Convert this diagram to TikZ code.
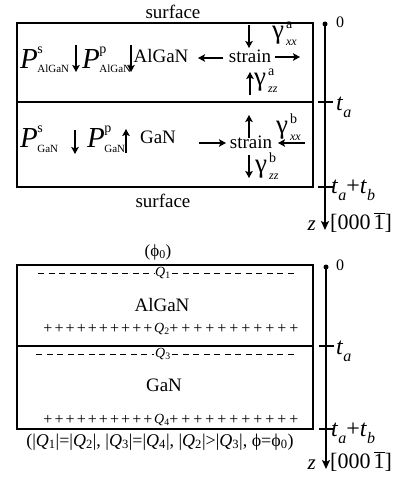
\documentclass[tikz,border=0pt]{standalone}
\usepackage{fontspec}
\setmainfont{Liberation Serif}
\usetikzlibrary{arrows.meta}

\newcommand{\fs}[1]{\fontsize{#1}{#1}\selectfont}
% polarization label P^s_{...}
\newcommand{\pol}[2]{\textit{P}\kern-0.5pt\rlap{\raisebox{15pt}{\fs{14}#1}}\raisebox{-5pt}{\fs{11}#2}}
% strain coefficient gamma^a_{xx}
\newcommand{\gam}[2]{{\fs{27}γ}\kern2pt\rlap{\raisebox{10pt}{\fs{14}#1}}\raisebox{-7pt}{\fs{12}\textit{#2}}}
\newcommand{\tsub}[2]{\textit{#1}\raisebox{-7pt}{\fs{16}\textit{#2}}}
\newcommand{\Qs}[1]{\textit{Q}\textsubscript{#1}}
\newcommand{\dirz}{[000\kern3pt$\overline{\mbox{1}}$]}

\begin{document}
\begin{tikzpicture}[x=1pt, y=-1pt,
    box/.style={line width=2pt},
    arr/.style={line width=1.6pt, -{Stealth[length=7pt, width=7.5pt, inset=1.5pt]}},
    axis/.style={line width=1.8pt, -{Stealth[length=9pt, width=8pt, inset=2pt]}},
    tick/.style={line width=1.6pt},
    lbl/.style={inner sep=0pt, font=\fs{19}},
    chgline/.style={line width=0.9pt, dash pattern=on 6pt off 4.5pt},
    pl/.style={inner sep=0pt, font=\fs{16}},
    ql/.style={inner sep=1.5pt, font=\fs{14}}]
    \useasboundingbox (0,0) rectangle (408,487);

    % ---- upper picture: polarization and strain ----
    \draw[box] (17,23) rectangle (313,187);
    \draw[box] (17,102) -- (313,102);
    \node[lbl] (surfT) at (173,12) {surface};
    \node[lbl] (surfB) at (163,201) {surface};

    % AlGaN layer
    \node[lbl, anchor=base west, font=\fs{29}] (PsA) at (20,68) {\pol{s}{AlGaN}};
    \draw[arr] (76,45) -- (76,72);
    \node[lbl, anchor=base west, font=\fs{29}] (PpA) at (82,68) {\pol{p}{AlGaN}};
    \draw[arr] (131,45) -- (131,72);
    \node[lbl, anchor=base] (algA) at (161,63) {AlGaN};
    \node[lbl, anchor=base] (strA) at (250,63) {strain};
    \draw[arr] (223,58) -- (198,58);
    \draw[arr] (275,57) -- (300,57);
    \draw[arr] (249,25) -- (249,48);
    \draw[arr] (250,95) -- (250,72);
    \node[lbl, anchor=base west] (gxxA) at (272,39) {\gam{a}{xx}};
    \node[lbl, anchor=base west] (gzzA) at (254,85) {\gam{a}{zz}};

    % GaN layer
    \node[lbl, anchor=base west, font=\fs{29}] (PsG) at (20,147) {\pol{s}{GaN}};
    \draw[arr] (75,130) -- (75,154);
    \node[lbl, anchor=base west, font=\fs{29}] (PpG) at (87,147) {\pol{p}{GaN}};
    \draw[arr] (126,153) -- (126,129);
    \node[lbl, anchor=base] (ganG) at (158,143) {GaN};
    \node[lbl, anchor=base] (strG) at (251,148) {strain};
    \draw[arr] (199,143) -- (226,143);
    \draw[arr] (305,143) -- (278,143);
    \draw[arr] (249,138) -- (249,115);
    \draw[arr] (249,155) -- (249,178);
    \node[lbl, anchor=base west] (gxxG) at (276,133) {\gam{b}{xx}};
    \node[lbl, anchor=base west] (gzzG) at (255,172) {\gam{b}{zz}};

    % depth axis
    \fill (325,24) circle (2.5);
    \draw[axis] (325,24) -- (325,230);
    \draw[tick] (318,102) -- (333,102);
    \draw[tick] (318,187) -- (333,187);
    \node[lbl, font=\fs{16}] (zeroT) at (340,22) {0};
    \node[lbl, anchor=base west, font=\fs{24}] (taT) at (336,110) {\tsub{t}{a}};
    \node[lbl, anchor=base west, font=\fs{24}] (tabT) at (331,193) {\tsub{t}{a}+\tsub{t}{b}};
    \node[lbl, anchor=base east, font=\fs{21}\itshape] (zT) at (316,230) {z};
    \node[lbl, anchor=base west, font=\fs{22}] (dirT) at (330,229) {\dirz};

    % ---- lower picture: interface charges ----
    \draw[box] (17,265) rectangle (313,429);
    \draw[box] (17,346) -- (313,346);
    \node[lbl, font=\fs{17}] (phi) at (158,252) {(ϕ\textsubscript{0})};

    \node[ql] (Q1) at (163,273) {\Qs{1}};
    \draw[chgline] (38,273) -- (Q1.west);
    \draw[chgline] (Q1.east) -- (297,273);
    \node[lbl] (algB) at (162,305) {AlGaN};
    \node[ql] (Q2) at (162,329) {\Qs{2}};
    \foreach \i in {0,...,9}
        \node[pl] (pa\i) at (48+\i*11.1,329) {+};
    \foreach \i in {0,...,10}
        \node[pl] (pb\i) at (174+\i*12,329) {+};

    \node[ql] (Q3) at (163,354) {\Qs{3}};
    \draw[chgline] (36,354) -- (Q3.west);
    \draw[chgline] (Q3.east) -- (297,354);
    \node[lbl] (ganB) at (164,385) {GaN};
    \node[ql] (Q4) at (162,420) {\Qs{4}};
    \foreach \i in {0,...,9}
        \node[pl] (qa\i) at (48+\i*11.1,420) {+};
    \foreach \i in {0,...,10}
        \node[pl] (qb\i) at (174+\i*12,420) {+};

    \node[lbl, font=\fs{18}] (cond) at (160,442)
        {(|\Qs{1}|=|\Qs{2}|, |\Qs{3}|=|\Qs{4}|, |\Qs{2}|>|\Qs{3}|, ϕ=ϕ\textsubscript{0})};

    % depth axis
    \fill (326,267) circle (2.5);
    \draw[axis] (326,267) -- (326,469);
    \draw[tick] (319,346) -- (334,346);
    \draw[tick] (319,429) -- (334,429);
    \node[lbl, font=\fs{16}] (zeroB) at (340,265) {0};
    \node[lbl, anchor=base west, font=\fs{24}] (taB) at (336,354) {\tsub{t}{a}};
    \node[lbl, anchor=base west, font=\fs{24}] (tabB) at (331,436) {\tsub{t}{a}+\tsub{t}{b}};
    \node[lbl, anchor=base east, font=\fs{21}\itshape] (zB) at (316,469) {z};
    \node[lbl, anchor=base west, font=\fs{22}] (dirB) at (330,468) {\dirz};
\end{tikzpicture}
\end{document}
